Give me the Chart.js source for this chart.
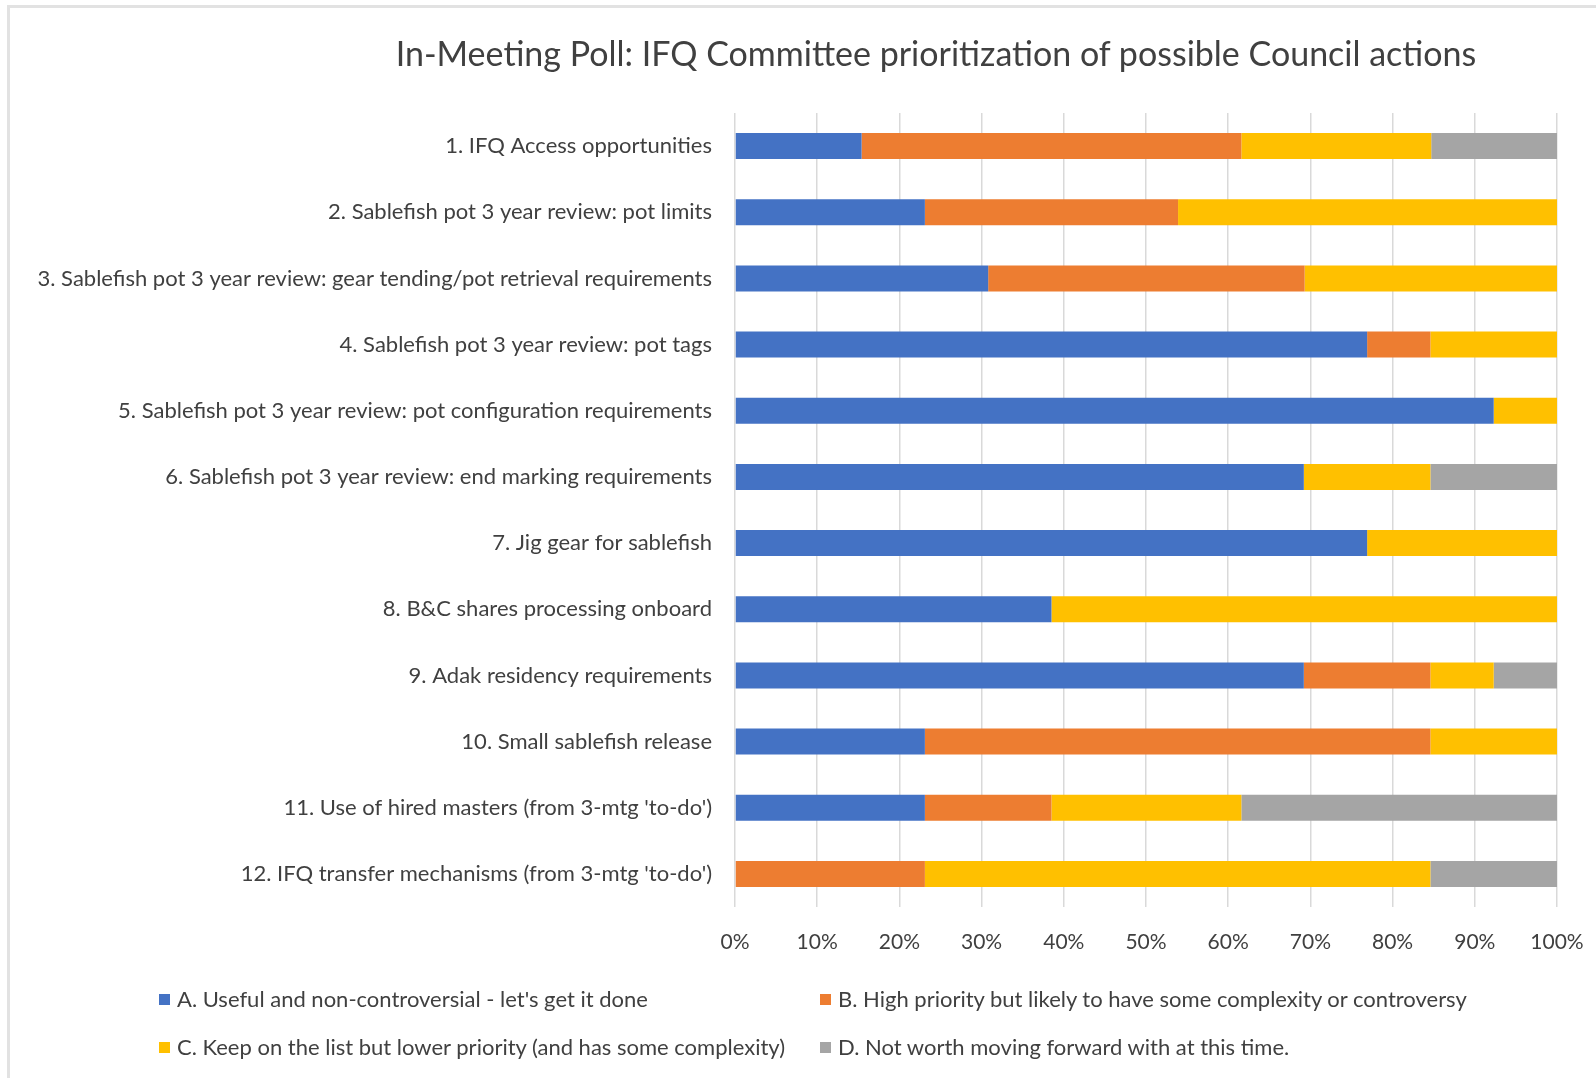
<!DOCTYPE html>
<html>
<head>
<meta charset="utf-8">
<script src="https://cdn.jsdelivr.net/npm/chart.js@4/dist/chart.umd.min.js"></script>
<style>
    html, body { margin: 0; padding: 0; background: #fff; }
    body { width: 1596px; height: 1078px; position: relative; overflow: hidden; font-family: Lato, "Open Sans", sans-serif; color: #404040; }
    #frame { position: absolute; left: 7px; top: 5px; right: 0; bottom: -10px; border-left: 3px solid #e2e2e2; border-top: 3px solid #e2e2e2; }
    #title { position: absolute; left: 0; width: 1872px; top: 31px; text-align: center; font-size: 34px; line-height: 44px; white-space: nowrap; }
    #chartWrap { position: absolute; left: 0; top: 0; width: 1596px; height: 1078px; }
    .legend-item { position: absolute; font-size: 22px; line-height: 26px; white-space: nowrap; }
    .legend-item span.box { display: inline-block; width: 11px; height: 11px; margin-right: 7px; vertical-align: 2px; }
</style>
</head>
<body>
<div id="frame"></div>
<div id="chartWrap"><canvas id="chartPoll" width="1596" height="1078"></canvas></div>
<div id="title">In-Meeting Poll: IFQ Committee prioritization of possible Council actions</div>
<div id="legend"></div>
<script>
const categories = [
    "1. IFQ Access opportunities",
    "2. Sablefish pot 3 year review: pot limits",
    "3. Sablefish pot 3 year review: gear tending/pot retrieval requirements",
    "4. Sablefish pot 3 year review: pot tags",
    "5. Sablefish pot 3 year review: pot configuration requirements",
    "6. Sablefish pot 3 year review: end marking requirements",
    "7. Jig gear for sablefish",
    "8. B&C shares processing onboard",
    "9. Adak residency requirements",
    "10. Small sablefish release",
    "11. Use of hired masters (from 3-mtg 'to-do')",
    "12. IFQ transfer mechanisms (from 3-mtg 'to-do')",
];

const seriesNames = [
    "A. Useful and non-controversial - let's get it done",
    "B. High priority but likely to have some complexity or controversy",
    "C. Keep on the list but lower priority (and has some complexity)",
    "D. Not worth moving forward with at this time.",
];

// percent of respondents per item
const usefulA = [15.4, 23.1, 30.8, 76.9, 92.3, 69.2, 76.9, 38.5, 69.2, 23.1, 23.1, 0];
const highB = [46.2, 30.8, 38.5, 7.7, 0, 0, 0, 0, 15.4, 61.5, 15.4, 23.1];
const keepC = [23.1, 46.2, 30.8, 15.4, 7.7, 15.4, 23.1, 61.5, 7.7, 15.4, 23.1, 61.5];
const notD = [15.4, 0, 0, 0, 0, 15.4, 0, 0, 7.7, 0, 38.5, 15.4];

const tickLabels = ["0%", "10%", "20%", "30%", "40%", "50%", "60%", "70%", "80%", "90%", "100%"];

const colors = ["#4472C4", "#ED7D31", "#FFC000", "#A5A5A5"];

document.addEventListener("DOMContentLoaded", () => {
    const ctx = document.getElementById("chartPoll");
    const seriesValues = [usefulA, highB, keepC, notD];

    const chart = new Chart(ctx, {
        type: "bar",
        data: {
            labels: categories,
            datasets: seriesNames.map((name, i) => ({
                label: name,
                data: seriesValues[i],
                backgroundColor: colors[i],
                borderWidth: 0,
                categoryPercentage: 0.8,
                barPercentage: 0.49,
            })),
        },
        options: {
            indexAxis: "y",
            responsive: false,
            animation: false,
            layout: { padding: { top: 113, right: 39, left: 0, bottom: 0 } },
            plugins: {
                legend: { display: false },
                title: { display: false },
                tooltip: { enabled: false },
            },
            scales: {
                x: {
                    stacked: true,
                    min: 0,
                    max: 100,
                    afterFit: (scale) => {
                        scale.height = 171;
                        scale.paddingRight = 0;
                        scale.paddingLeft = 0;
                    },
                    grid: { color: "#d9d9d9", lineWidth: 1.5, drawTicks: false },
                    border: { display: false },
                    ticks: {
                        stepSize: 10,
                        padding: 23,
                        color: "#404040",
                        font: { family: "Lato", size: 21 },
                        callback: (value, index) => tickLabels[index],
                    },
                },
                y: {
                    stacked: true,
                    afterFit: (scale) => { scale.width = 735; },
                    grid: { display: false, drawTicks: false },
                    border: { display: false },
                    ticks: {
                        padding: 23,
                        autoSkip: false,
                        color: "#404040",
                        font: { family: "Lato", size: 22 },
                    },
                },
            },
        },
    });

    // two-column legend like the original
    const legend = document.getElementById("legend");
    const spots = [[159, 986], [820, 986], [159, 1034], [820, 1034]];
    chart.data.datasets.forEach((ds, i) => {
        const item = document.createElement("div");
        item.className = "legend-item";
        item.style.left = spots[i][0] + "px";
        item.style.top = spots[i][1] + "px";
        const box = document.createElement("span");
        box.className = "box";
        box.style.background = ds.backgroundColor;
        item.appendChild(box);
        item.appendChild(document.createTextNode(ds.label));
        legend.appendChild(item);
    });
});
</script>
</body>
</html>
